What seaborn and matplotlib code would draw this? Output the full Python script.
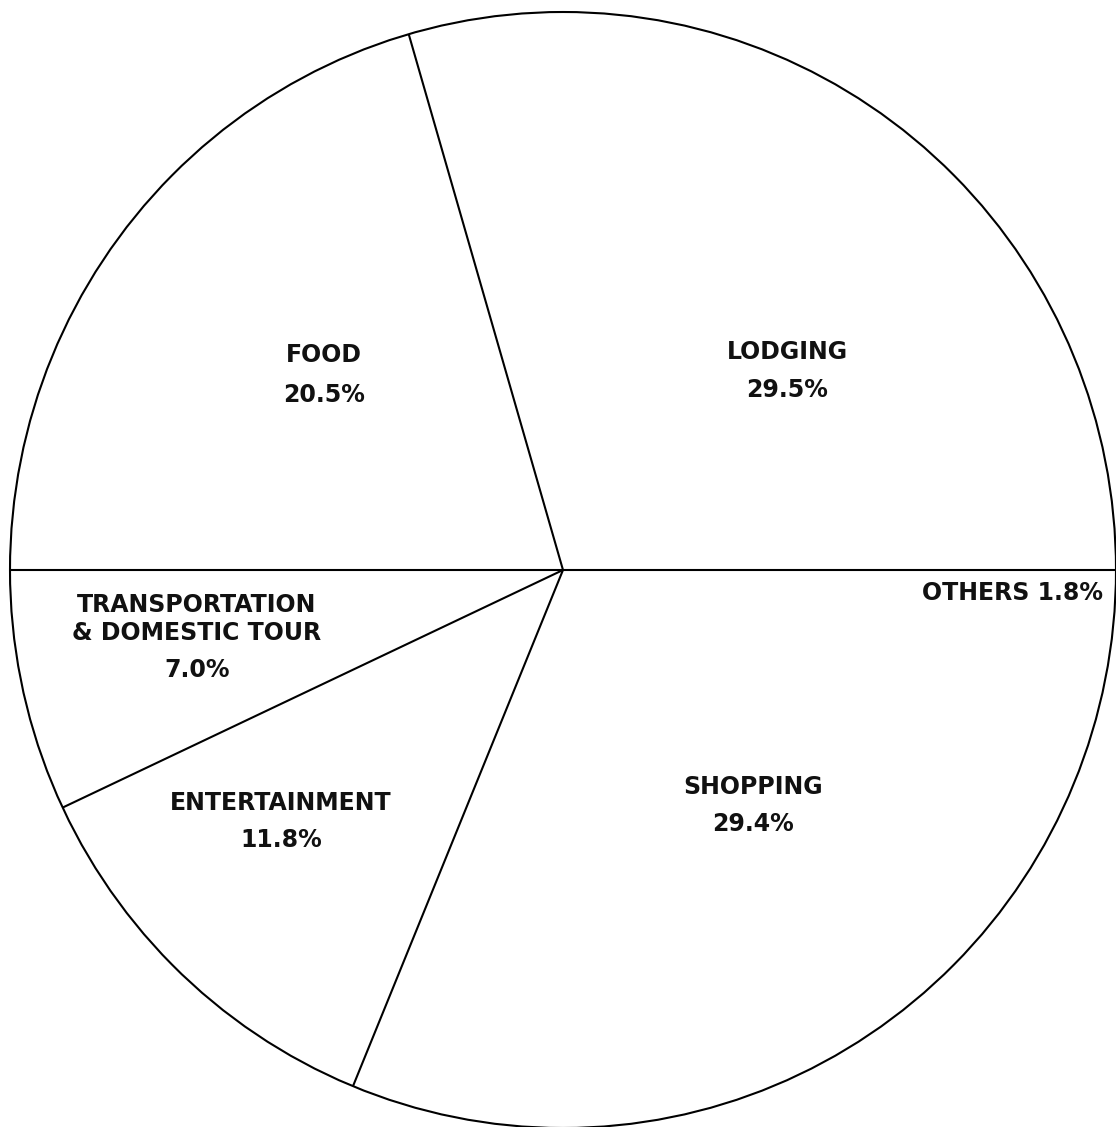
import numpy as np
import matplotlib
matplotlib.use("Agg")
import matplotlib.pyplot as plt
from matplotlib.patches import Ellipse
import seaborn as sns

# ---- data ----
categories = ["LODGING", "FOOD", "TRANSPORTATION\n& DOMESTIC TOUR", "ENTERTAINMENT", "SHOPPING", "OTHERS"]
shares = [29.5, 20.5, 7.0, 11.8, 29.4, 1.8]

# ---- label layout (pixel positions in the 1116x1127 figure: name line y, pct line y, x) ----
label_pos = [
    (787, 352, 390),
    (324, 355, 395),
    (197, 619, 670),
    (281, 803, 840),
    (753, 787, 824),
    (1012, 593, None),
]

sns.set_theme(style="white")
plt.rcParams['font.family'] = ['DejaVu Sans']

W, H = 1116, 1127
fig = plt.figure(figsize=(W / 100, H / 100), dpi=100)
fig.patch.set_facecolor("white")

cx, cy = 563, 570        # pixel centre (from top)
rx, ry = 553, 558        # pixel radii
ax = fig.add_axes([(cx - rx) / W, (H - cy - ry) / H, 2 * rx / W, 2 * ry / H])
ax.set_xlim(-1, 1)
ax.set_ylim(-1, 1)
ax.set_aspect("auto")
ax.axis("off")

wedges, _ = ax.pie(shares, startangle=0, counterclock=True, radius=1,
                   colors=["white"] * len(shares),
                   wedgeprops=dict(linewidth=0, edgecolor="none"))
ax.set_xlim(-1, 1)
ax.set_ylim(-1, 1)
ax.set_aspect("auto")

lw = 1.5
ax.add_patch(Ellipse((0, 0), 2, 2, fill=False, edgecolor="black", linewidth=lw, clip_on=False))

# radial boundaries computed from data (boundary between SHOPPING and OTHERS not drawn in original)
total = sum(shares)
cum = np.concatenate([[0], np.cumsum(shares)]) / total * 360.0
for i in range(len(shares)):
    if categories[i] == "OTHERS":
        continue
    ang = np.deg2rad(cum[i])
    ax.plot([0, np.cos(ang)], [0, np.sin(ang)], color="black", linewidth=lw,
            solid_capstyle="butt", clip_on=False)

def to_data(px, py):
    return (px - cx) / rx, (cy - py) / ry

fs = 17
for cat, val, (px, py1, py2) in zip(categories, shares, label_pos):
    pct = f"{val:.1f}%"
    if py2 is None:
        x, y = to_data(px, py1)
        ax.text(x, y, f"{cat} {pct}", ha="center", va="center", fontsize=fs,
                fontweight="bold", color="#111111")
    else:
        x, y = to_data(px, py1)
        ax.text(x, y, cat, ha="center", va="center", fontsize=fs, fontweight="bold",
                color="#111111", linespacing=1.2)
        x, y = to_data(px, py2)
        ax.text(x, y, pct, ha="center", va="center", fontsize=fs, fontweight="bold",
                color="#111111")

fig.savefig("out.png", dpi=100, facecolor="white")
